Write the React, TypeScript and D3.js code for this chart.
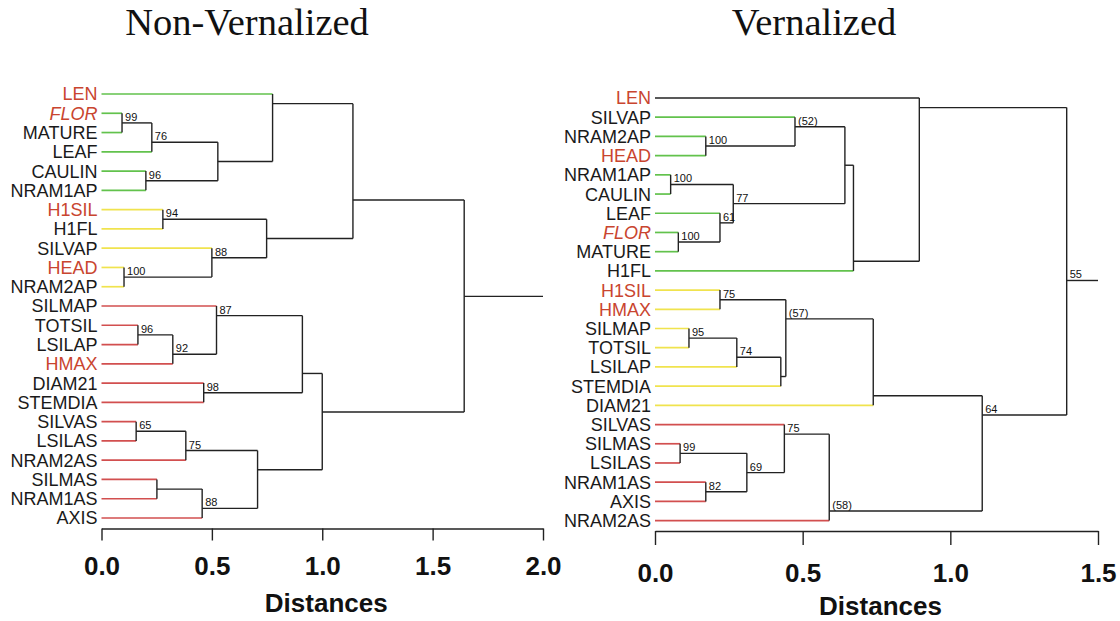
import * as d3 from 'd3';
import { useEffect, useRef } from 'react';

const WIDTH = 1120;
const HEIGHT = 621;

// leaf order as drawn, top to bottom
const leftLeaves = [
  'LEN', 'FLOR', 'MATURE', 'LEAF', 'CAULIN', 'NRAM1AP', 'H1SIL', 'H1FL', 'SILVAP', 'HEAD', 'NRAM2AP',
  'SILMAP', 'TOTSIL', 'LSILAP', 'HMAX', 'DIAM21', 'STEMDIA', 'SILVAS', 'LSILAS', 'NRAM2AS', 'SILMAS',
  'NRAM1AS', 'AXIS',
];
const leftGroups = [
  'G', 'G', 'G', 'G', 'G', 'G', 'Y', 'Y', 'Y', 'Y', 'Y',
  'R', 'R', 'R', 'R', 'R', 'R', 'R', 'R', 'R', 'R', 'R', 'R',
];
// [child A, child B, distance, bootstrap]; numbers point to earlier merges
const leftMerges: [string | number, string | number, number, string][] = [
  ['FLOR', 'MATURE', 0.093, '99'],
  [0, 'LEAF', 0.228, '76'],
  ['CAULIN', 'NRAM1AP', 0.201, '96'],
  [1, 2, 0.527, ''],
  ['LEN', 3, 0.775, ''],
  ['H1SIL', 'H1FL', 0.278, '94'],
  ['HEAD', 'NRAM2AP', 0.102, '100'],
  ['SILVAP', 6, 0.5, '88'],
  [5, 7, 0.748, ''],
  [4, 8, 1.139, ''],
  ['TOTSIL', 'LSILAP', 0.165, '96'],
  [10, 'HMAX', 0.323, '92'],
  ['SILMAP', 11, 0.521, '87'],
  ['DIAM21', 'STEMDIA', 0.463, '98'],
  [12, 13, 0.91, ''],
  ['SILVAS', 'LSILAS', 0.157, '65'],
  [15, 'NRAM2AS', 0.382, '75'],
  ['SILMAS', 'NRAM1AS', 0.251, ''],
  [17, 'AXIS', 0.456, '88'],
  [16, 18, 0.707, ''],
  [14, 19, 1.0, ''],
  [9, 20, 1.643, ''],
];
const leftTicks = [0, 0.5, 1, 1.5, 2];

const rightLeaves = [
  'LEN', 'SILVAP', 'NRAM2AP', 'HEAD', 'NRAM1AP', 'CAULIN', 'LEAF', 'FLOR', 'MATURE', 'H1FL',
  'H1SIL', 'HMAX', 'SILMAP', 'TOTSIL', 'LSILAP', 'STEMDIA', 'DIAM21', 'SILVAS', 'SILMAS', 'LSILAS',
  'NRAM1AS', 'AXIS', 'NRAM2AS',
];
const rightGroups = [
  'K', 'G', 'G', 'G', 'G', 'G', 'G', 'G', 'G', 'G',
  'Y', 'Y', 'Y', 'Y', 'Y', 'Y', 'Y', 'R', 'R', 'R', 'R', 'R', 'R',
];
const rightMerges: [string | number, string | number, number, string][] = [
  ['NRAM2AP', 'HEAD', 0.172, '100'],
  ['SILVAP', 0, 0.474, '(52)'],
  ['NRAM1AP', 'CAULIN', 0.053, '100'],
  ['FLOR', 'MATURE', 0.079, '100'],
  ['LEAF', 3, 0.22, '61'],
  [2, 4, 0.265, '77'],
  [1, 5, 0.643, ''],
  [6, 'H1FL', 0.672, ''],
  ['LEN', 7, 0.895, ''],
  ['H1SIL', 'HMAX', 0.22, '75'],
  ['SILMAP', 'TOTSIL', 0.115, '95'],
  [10, 'LSILAP', 0.277, '74'],
  [11, 'STEMDIA', 0.426, ''],
  [9, 12, 0.443, '(57)'],
  [13, 'DIAM21', 0.739, ''],
  ['SILMAS', 'LSILAS', 0.085, '99'],
  ['NRAM1AS', 'AXIS', 0.172, '82'],
  [15, 16, 0.311, '69'],
  ['SILVAS', 17, 0.438, '75'],
  [18, 'NRAM2AS', 0.59, '(58)'],
  [14, 19, 1.108, '64'],
  [8, 20, 1.394, '55'],
];
const rightTicks = [0, 0.5, 1, 1.5];

const highlightedTraits = ['LEN', 'FLOR', 'H1SIL', 'HEAD', 'HMAX'];
const italicTraits = ['FLOR'];

const GROUP_COLORS: Record<string, string> = {
  G: '#62c24c',
  Y: '#f0e34e',
  R: '#d24f4f',
  K: '#222',
};
const LINE_COLOR = '#222';
const LABEL_RED = '#c9452f';
const SANS = 'Arial, "Liberation Sans", sans-serif';
const SERIF = '"Times New Roman", "Liberation Serif", serif';

type Panel = {
  title: string;
  titleX: number;
  leaves: string[];
  groups: string[];
  merges: [string | number, string | number, number, string][];
  ticks: number[];
  xRange: [number, number];
  yRange: [number, number];
  axisY: number;
  tickSize: number;
  tickPadding: number;
  axisTitleY: number;
};

function drawPanel(svg: d3.Selection<SVGSVGElement, unknown, null, undefined>, p: Panel) {
  const x = d3.scaleLinear().domain([p.ticks[0], p.ticks[p.ticks.length - 1]]).range(p.xRange);
  const y = d3.scaleLinear().domain([0, p.leaves.length - 1]).range(p.yRange);
  const g = svg.append('g');

  type Node = { first: number; last: number; outY: number; x: number; leaf: boolean; group: string };
  const leafNodes = new Map<string, Node>();
  p.leaves.forEach((name, i) => {
    leafNodes.set(name, { first: i, last: i, outY: y(i), x: x(0), leaf: true, group: p.groups[i] });
  });
  const mergeNodes: Node[] = [];
  const getNode = (ref: string | number) => (typeof ref === 'number' ? mergeNodes[ref] : leafNodes.get(ref)!);

  const colored = g.append('g');
  const black = g.append('g').attr('stroke', LINE_COLOR).attr('stroke-width', 1.4).attr('fill', 'none');
  const supports = g.append('g');

  p.merges.forEach(([aRef, bRef, dist, support]) => {
    const a = getNode(aRef);
    const b = getNode(bRef);
    // the join sits on the boundary between the two children's rows
    const node: Node = {
      first: a.first,
      last: b.last,
      outY: y((a.last + b.first) / 2),
      x: x(dist),
      leaf: false,
      group: '',
    };
    mergeNodes.push(node);

    [a, b].forEach((child) => {
      const target = child.leaf ? colored : black;
      const line = target.append('line')
        .attr('x1', child.x)
        .attr('x2', node.x)
        .attr('y1', child.outY)
        .attr('y2', child.outY);
      if (child.leaf) {
        line.attr('stroke', GROUP_COLORS[child.group]).attr('stroke-width', child.group === 'K' ? 1.4 : 1.7);
      }
    });

    black.append('line')
      .attr('x1', node.x)
      .attr('x2', node.x)
      .attr('y1', a.outY)
      .attr('y2', b.outY);

    if (support) {
      supports.append('text')
        .attr('x', node.x + 3)
        .attr('y', node.outY - 2)
        .attr('font-family', SANS)
        .attr('font-size', 11)
        .attr('fill', '#111')
        .text(support);
    }
  });

  const root = mergeNodes[mergeNodes.length - 1];
  black.append('line')
    .attr('x1', root.x)
    .attr('x2', p.xRange[1])
    .attr('y1', root.outY)
    .attr('y2', root.outY);

  g.append('g')
    .selectAll('text')
    .data(p.leaves)
    .join('text')
    .attr('x', p.xRange[0] - 4)
    .attr('y', (_d, i) => y(i))
    .attr('dy', '0.36em')
    .attr('text-anchor', 'end')
    .attr('font-family', SANS)
    .attr('font-size', 18)
    .attr('font-style', (d) => (italicTraits.includes(d) ? 'italic' : 'normal'))
    .attr('fill', (d) => (highlightedTraits.includes(d) ? LABEL_RED : '#1a1a1a'))
    .text((d) => d);

  const axis = g.append('g')
    .attr('transform', `translate(0,${p.axisY})`)
    .call(
      d3.axisBottom(x)
        .tickValues(p.ticks)
        .tickFormat(d3.format('.1f'))
        .tickSize(p.tickSize)
        .tickSizeOuter(0)
        .tickPadding(p.tickPadding)
    );
  axis.attr('font-family', SANS).attr('font-size', 26).attr('font-weight', 700);
  axis.select('.domain').attr('stroke', LINE_COLOR).attr('stroke-width', 1.4);
  axis.selectAll('.tick line').attr('stroke', LINE_COLOR).attr('stroke-width', 1.4);
  axis.selectAll('.tick text').attr('fill', '#111');

  g.append('text')
    .attr('x', (p.xRange[0] + p.xRange[1]) / 2 + 4)
    .attr('y', p.axisTitleY)
    .attr('text-anchor', 'middle')
    .attr('font-family', SANS)
    .attr('font-size', 26)
    .attr('font-weight', 700)
    .attr('fill', '#111')
    .text('Distances');

  svg.append('text')
    .attr('x', p.titleX)
    .attr('y', 35)
    .attr('text-anchor', 'middle')
    .attr('font-family', SERIF)
    .attr('font-size', 38.5)
    .attr('fill', '#111')
    .text(p.title);
}

export default function App() {
  const ref = useRef<SVGSVGElement>(null);

  useEffect(() => {
    const svg = d3.select(ref.current!);
    svg.selectAll('*').remove();

    svg.append('rect').attr('width', WIDTH).attr('height', HEIGHT).attr('fill', '#fff');

    drawPanel(svg, {
      title: 'Non-Vernalized',
      titleX: 247,
      leaves: leftLeaves,
      groups: leftGroups,
      merges: leftMerges,
      ticks: leftTicks,
      xRange: [101.5, 543],
      yRange: [94, 518],
      axisY: 528.5,
      tickSize: 12,
      tickPadding: 16,
      axisTitleY: 612,
    });

    drawPanel(svg, {
      title: 'Vernalized',
      titleX: 814,
      leaves: rightLeaves,
      groups: rightGroups,
      merges: rightMerges,
      ticks: rightTicks,
      xRange: [655, 1098],
      yRange: [98, 520.6],
      axisY: 531,
      tickSize: 14,
      tickPadding: 19,
      axisTitleY: 615,
    });

    return () => {
      svg.selectAll('*').remove();
    };
  }, []);

  return (
    <svg
      ref={ref}
      width={WIDTH}
      height={HEIGHT}
      style={{ position: 'absolute', left: 0, top: 0, display: 'block' }}
      role="img"
      aria-label="Dendrograms of traits, non-vernalized and vernalized"
    />
  );
}
